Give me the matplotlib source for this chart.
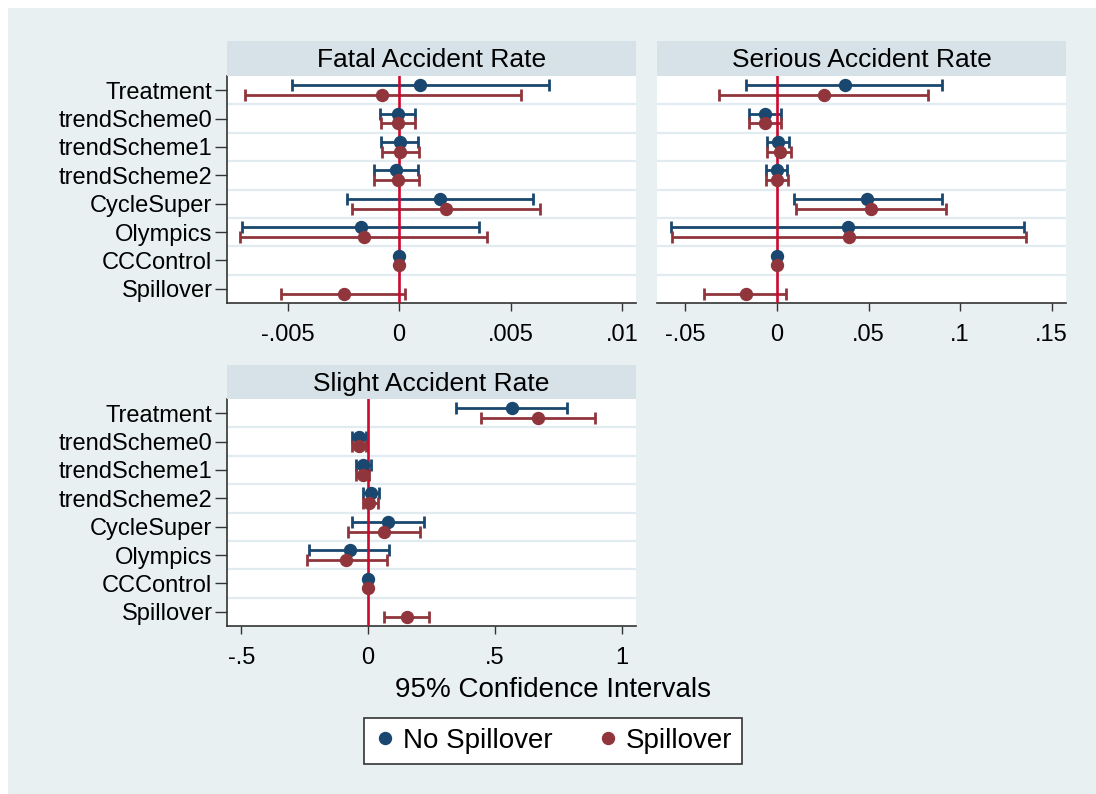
import matplotlib

matplotlib.use('Agg')
import matplotlib.pyplot as plt
import numpy as np
from matplotlib.lines import Line2D
from matplotlib.patches import Rectangle

variables = ['Treatment', 'trendScheme0', 'trendScheme1', 'trendScheme2',
             'CycleSuper', 'Olympics', 'CCControl', 'Spillover']

# Fatal accident rate: coefficient, lower and upper 95% bound
fatal_no_coef = [0.00093, -0.00007, 0.00003, -0.00012, 0.00183, -0.00169, 0.0, np.nan]
fatal_no_lo = [-0.00482, -0.00087, -0.00081, -0.00111, -0.00232, -0.00704, 0.0, np.nan]
fatal_no_hi = [0.00672, 0.00073, 0.00084, 0.00084, 0.00599, 0.00359, 0.0, np.nan]
fatal_sp_coef = [-0.00075, -0.00007, 0.00003, -0.00007, 0.00208, -0.00159, 0.0, -0.00247]
fatal_sp_lo = [-0.00692, -0.00081, -0.00075, -0.00111, -0.00211, -0.00711, 0.0, -0.0053]
fatal_sp_hi = [0.00545, 0.00073, 0.0009, 0.0009, 0.00629, 0.00392, 0.0, 0.00027]

# Serious accident rate
serious_no_coef = [0.0373, -0.0067, 0.0007, 0.0, 0.0493, 0.0387, 0.0, np.nan]
serious_no_lo = [-0.0167, -0.0155, -0.0053, -0.0062, 0.0091, -0.0578, 0.0, np.nan]
serious_no_hi = [0.0902, 0.0024, 0.0065, 0.0055, 0.0902, 0.1349, 0.0, np.nan]
serious_sp_coef = [0.0255, -0.0067, 0.0016, 0.0, 0.0516, 0.0393, 0.0, -0.0167]
serious_sp_lo = [-0.0315, -0.0155, -0.0053, -0.0062, 0.0102, -0.0571, 0.0, -0.0396]
serious_sp_hi = [0.0822, 0.0024, 0.0076, 0.0062, 0.0924, 0.136, 0.0, 0.0051]

# Slight accident rate
slight_no_coef = [0.568, -0.037, -0.020, 0.011, 0.079, -0.072, 0.0, np.nan]
slight_no_lo = [0.346, -0.062, -0.047, -0.022, -0.063, -0.233, 0.0, np.nan]
slight_no_hi = [0.785, -0.009, 0.011, 0.043, 0.221, 0.084, 0.0, np.nan]
slight_sp_coef = [0.668, -0.037, -0.020, 0.005, 0.062, -0.087, 0.0, 0.154]
slight_sp_lo = [0.444, -0.062, -0.047, -0.022, -0.081, -0.239, 0.0, 0.062]
slight_sp_hi = [0.894, -0.009, 0.005, 0.037, 0.206, 0.075, 0.0, 0.238]

fatal_ticks = [-0.005, 0, 0.005, 0.01]
serious_ticks = [-0.05, 0, 0.05, 0.1, 0.15]
slight_ticks = [-0.5, 0, 0.5, 1]

NAVY = '#1A476F'
MAROON = '#90353B'
ZERO_RED = '#CC0A2F'
BG = '#E8F0F2'
STRIP = '#D6E2E8'
SEP = '#E2ECF0'
FONT = 'Liberation Sans'

W, H = 1096, 794


def stata_label(v):
    # Stata drops the leading zero: .005, -.05, 1
    s = ('%g' % v)
    if s.startswith('0.'):
        s = s[1:]
    elif s.startswith('-0.'):
        s = '-' + s[2:]
    return s


def px_box(x0, y0, x1, y1):
    return [x0 / W, 1 - y1 / H, (x1 - x0) / W, (y1 - y0) / H]


def draw_panel(fig, box, strip_box, title, ticks, xlim, series, show_labels):
    ax = fig.add_axes(px_box(*box))
    ax.set_facecolor('white')

    rows = np.arange(len(variables))
    for i in range(len(variables) - 1):
        ax.axhline(i + 0.5, color=SEP, lw=1.6, zorder=1)

    ax.axvline(0, color=ZERO_RED, lw=1.9, zorder=3)

    for (coef, lo, hi), color, offset in zip(series, [NAVY, MAROON], [-0.17, 0.17]):
        coef = np.array(coef, dtype=float)
        lo = np.array(lo, dtype=float)
        hi = np.array(hi, dtype=float)
        y = rows + offset
        ok = ~np.isnan(coef)
        ax.errorbar(coef[ok], y[ok], xerr=[coef[ok] - lo[ok], hi[ok] - coef[ok]],
                    fmt='none', ecolor=color, elinewidth=2.0, capsize=4.6,
                    capthick=2.0, zorder=2)
        ax.plot(coef[ok], y[ok], 'o', color=color, markersize=8.6, zorder=4)

    ax.set_ylim(len(variables) - 0.5, -0.5)
    ax.set_xlim(*xlim)
    ax.set_xticks(ticks)
    ax.set_xticklabels([stata_label(t) for t in ticks], fontsize=17, family=FONT)
    ax.tick_params(axis='x', length=6, width=1, color='#333333', pad=9)

    ax.set_yticks(rows)
    if show_labels:
        ax.set_yticklabels(variables, fontsize=17, family=FONT)
        ax.tick_params(axis='y', length=9, width=1, color='#333333', pad=1.5)
    else:
        ax.set_yticklabels([])
        ax.tick_params(axis='y', length=0)
        ax.spines['left'].set_visible(False)

    ax.spines['top'].set_visible(False)
    ax.spines['right'].set_visible(False)
    for side in ['left', 'bottom']:
        ax.spines[side].set_color('#333333')
        ax.spines[side].set_linewidth(1.2)

    sax = fig.add_axes(px_box(*strip_box))
    sax.set_facecolor(STRIP)
    sax.set_xticks([])
    sax.set_yticks([])
    for s in sax.spines.values():
        s.set_visible(False)
    sax.text(0.5, 0.45, title, ha='center', va='center', fontsize=19, family=FONT,
             transform=sax.transAxes)
    return ax


def main():
    fig = plt.figure(figsize=(W / 100, H / 100), dpi=100, facecolor='white')
    fig.patches.append(Rectangle((8 / W, 0), 1 - 8 / W, 1 - 8 / H, transform=fig.transFigure,
                                 facecolor=BG, edgecolor='none', zorder=-10))

    draw_panel(fig, (227, 76, 636, 303), (227, 41, 636, 76), 'Fatal Accident Rate',
               fatal_ticks, (-0.00771, 0.01061),
               [(fatal_no_coef, fatal_no_lo, fatal_no_hi),
                (fatal_sp_coef, fatal_sp_lo, fatal_sp_hi)], True)
    draw_panel(fig, (657, 76, 1066, 303), (657, 41, 1066, 76), 'Serious Accident Rate',
               serious_ticks, (-0.0655, 0.1578),
               [(serious_no_coef, serious_no_lo, serious_no_hi),
                (serious_sp_coef, serious_sp_lo, serious_sp_hi)], False)
    draw_panel(fig, (227, 399, 636, 626), (227, 365, 636, 399), 'Slight Accident Rate',
               slight_ticks, (-0.556, 1.055),
               [(slight_no_coef, slight_no_lo, slight_no_hi),
                (slight_sp_coef, slight_sp_lo, slight_sp_hi)], True)

    fig.text(553 / W, 1 - 690 / H, '95% Confidence Intervals', ha='center', va='center',
             fontsize=20, family=FONT)

    handles = [Line2D([], [], marker='o', ls='none', color=NAVY, markersize=8.6),
               Line2D([], [], marker='o', ls='none', color=MAROON, markersize=8.6)]
    leg = fig.legend(handles, ['No Spillover', 'Spillover'], loc='center',
                     bbox_to_anchor=(553 / W, 1 - 741 / H), ncol=2, frameon=True,
                     fancybox=False, prop={'family': FONT, 'size': 20},
                     handlelength=0.8, handletextpad=0.25, columnspacing=1.6,
                     borderpad=0.35, framealpha=1)
    leg.get_frame().set_facecolor('white')
    leg.get_frame().set_edgecolor('#333333')
    leg.get_frame().set_linewidth(1.2)

    fig.savefig('out.png', dpi=100, facecolor=fig.get_facecolor())


if __name__ == '__main__':
    main()
